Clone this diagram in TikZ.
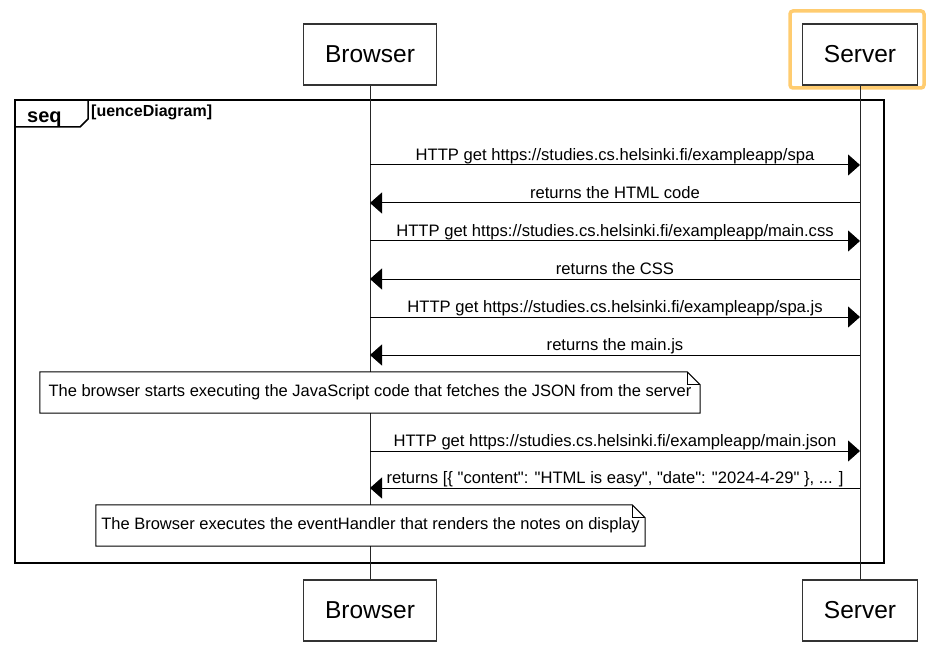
\documentclass[tikz,border=0pt]{standalone}
\usepackage{fontspec}
\setmainfont{Liberation Sans}[Ligatures=TeXOff]
\usetikzlibrary{arrows.meta}
\definecolor{hilite}{RGB}{255,204,112}
\tikzset{
    actor/.style={
        draw=black!80,
        line width=1.2pt,
        fill=white,
        inner xsep=21.5pt,
        minimum height=61pt,
        font=\fontsize{24.5}{28}\selectfont},
    life/.style={
        draw=black!85,
        line width=1pt},
    frame/.style={
        draw,
        line width=2.5pt},
    msg/.style={
        above=4pt,
        inner sep=0pt,
        text depth=0pt,
        font=\fontsize{16.6}{19}\selectfont},
    note/.style={
        fill=white,
        inner sep=0pt,
        minimum height=41pt,
        font=\fontsize{16.5}{19}\selectfont},
    every edge/.style={
        draw,
        -{Triangle[length=12pt,width=21pt]},
        line width=1pt}}

\begin{document}
\begin{tikzpicture}[x=1pt,y=-1pt]
        \useasboundingbox (0,0) rectangle (940,647);

        % highlight round the server
        \draw[hilite,line width=3.5pt,rounded corners=3pt] (790,11) rectangle (924,88);

        % the frame
        \draw[frame] (15,100) rectangle (884,563);
        \draw[line width=1.5pt] (15,127) -- (80,127) -- (88,119) -- (88,100);
        \node[anchor=base west,inner sep=0pt,font=\bfseries\fontsize{20}{24}\selectfont] (seq) at (27,123) {seq};
        \node[anchor=base west,inner sep=0pt,font=\bfseries\fontsize{16}{19}\selectfont] (seqname) at (91,117) {[uenceDiagram]};

        \node[actor] (btop) at (370,54.5) {Browser};
        \node[actor] (stop) at (860,54.5) {Server};
        \node[actor] (bbot) at (370,610.5) {Browser};
        \node[actor] (sbot) at (860,610.5) {Server};

        \draw[life] (btop) -- (bbot);
        \draw[life] (stop) -- (sbot);

        \coordinate (b1) at (370,165); \coordinate (s1) at (860,165);
        \coordinate (b2) at (370,203); \coordinate (s2) at (860,203);
        \coordinate (b3) at (370,241); \coordinate (s3) at (860,241);
        \coordinate (b4) at (370,279); \coordinate (s4) at (860,279);
        \coordinate (b5) at (370,317); \coordinate (s5) at (860,317);
        \coordinate (b6) at (370,355); \coordinate (s6) at (860,355);
        \coordinate (b7) at (370,451); \coordinate (s7) at (860,451);
        \coordinate (b8) at (370,488); \coordinate (s8) at (860,488);

        \draw (b1) edge node[msg] {HTTP get https://studies.cs.helsinki.fi/exampleapp/spa} (s1);
        \draw (s2) edge node[msg] {returns the HTML code} (b2);
        \draw (b3) edge node[msg] {HTTP get https://studies.cs.helsinki.fi/exampleapp/main.css} (s3);
        \draw (s4) edge node[msg] {returns the CSS} (b4);
        \draw (b5) edge node[msg] {HTTP get https://studies.cs.helsinki.fi/exampleapp/spa.js} (s5);
        \draw (s6) edge node[msg] {returns the main.js} (b6);

        \node[note,minimum width=660pt] (n1) at (370,392.5)
            {The browser starts executing the JavaScript code that fetches the JSON from the server};
        \draw[line width=1pt] (n1.north west) -- ([xshift=-13pt]n1.north east) -- ([yshift=-13pt]n1.north east)
            -- (n1.south east) -- (n1.south west) -- cycle;
        \draw[line width=1pt] ([xshift=-13pt]n1.north east) |- ([yshift=-13pt]n1.north east);

        \draw (b7) edge node[msg] {HTTP get https://studies.cs.helsinki.fi/exampleapp/main.json} (s7);
        \draw (s8) edge node[msg] {returns [\{ "content": "HTML is easy", "date": "2024-4-29" \}, ... ]} (b8);

        \node[note,minimum width=549pt] (n2) at (370.5,525.5)
            {The Browser executes the eventHandler that renders the notes on display};
        \draw[line width=1pt] (n2.north west) -- ([xshift=-13pt]n2.north east) -- ([yshift=-13pt]n2.north east)
            -- (n2.south east) -- (n2.south west) -- cycle;
        \draw[line width=1pt] ([xshift=-13pt]n2.north east) |- ([yshift=-13pt]n2.north east);
    \end{tikzpicture}
\end{document}
